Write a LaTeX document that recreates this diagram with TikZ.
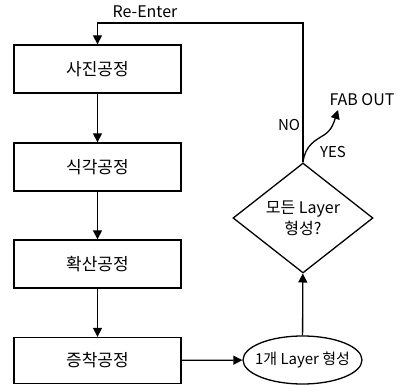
\documentclass[tikz,border=0pt]{standalone}
\usepackage{fontspec}
\setmainfont{Noto Sans CJK KR}
\usepackage{tikz}
\usetikzlibrary{
	arrows.meta,
	calc,
	shapes.geometric
}

\tikzset{
	procbox/.style={draw, line width=1.3pt, minimum width=167pt, minimum height=48pt, inner sep=0pt, font=\fontsize{17}{20}\selectfont},
	arr/.style={line width=1.3pt, -{Triangle[length=9pt, width=9pt]}},
	lbl/.style={font=\fontsize{15}{17}\selectfont, inner sep=0pt}
}

\begin{document}
\begin{tikzpicture}[x=1pt, y=-1pt]
		\useasboundingbox (0,0) rectangle (397,385);
		
		% 공정 박스
		\node[procbox] (photo) at (97.5,69) {사진공정};
		\node[procbox] (etch) at (97.5,167) {식각공정};
		\node[procbox] (diff) at (97.5,264) {확산공정};
		\node[procbox, minimum height=46pt] (depo) at (97.5,360.5) {증착공정};
		
		% 1개 Layer 형성 / 판단
		\node[draw, ellipse, line width=1.3pt, minimum width=119pt, minimum height=48pt, inner xsep=-12pt, inner ysep=0pt, font=\fontsize{15}{17}\selectfont] (layer) at (302.5,360) {1개 Layer 형성};
		\node[draw, diamond, line width=1.3pt, minimum width=140pt, minimum height=110pt, aspect=1.27, inner sep=0pt, align=center, font=\fontsize{16}{21}\selectfont] (check) at (303,218) {모든 Layer\\형성?};
		
		\coordinate (top) at (0,23);
		\coordinate (fab) at (338,110);
		
		\draw[arr] (photo) -- (etch);
		\draw[arr] (etch) -- (diff);
		\draw[arr] (diff) -- (depo);
		\draw[arr] (depo) -- (layer);
		\draw[arr] (layer) -- (check);
		
		% NO -> Re-Enter
		\draw[arr] (check.north) -- (check.north |- top) -| (photo.north);
		% YES -> FAB OUT
		\draw[arr] (check.north) .. controls (305,145) and (316,140) .. (324,135) .. controls (332,130) and (334,122) .. (fab);
		
		\node[lbl, font=\fontsize{16}{18}\selectfont] (reenter) at (145,12) {Re-Enter};
		\node[lbl] (no) at (289,125) {NO};
		\node[lbl] (yes) at (333,152) {YES};
		\node[lbl, font=\fontsize{16}{18}\selectfont] (fabout) at (362,100) {FAB OUT};
	\end{tikzpicture}
\end{document}
